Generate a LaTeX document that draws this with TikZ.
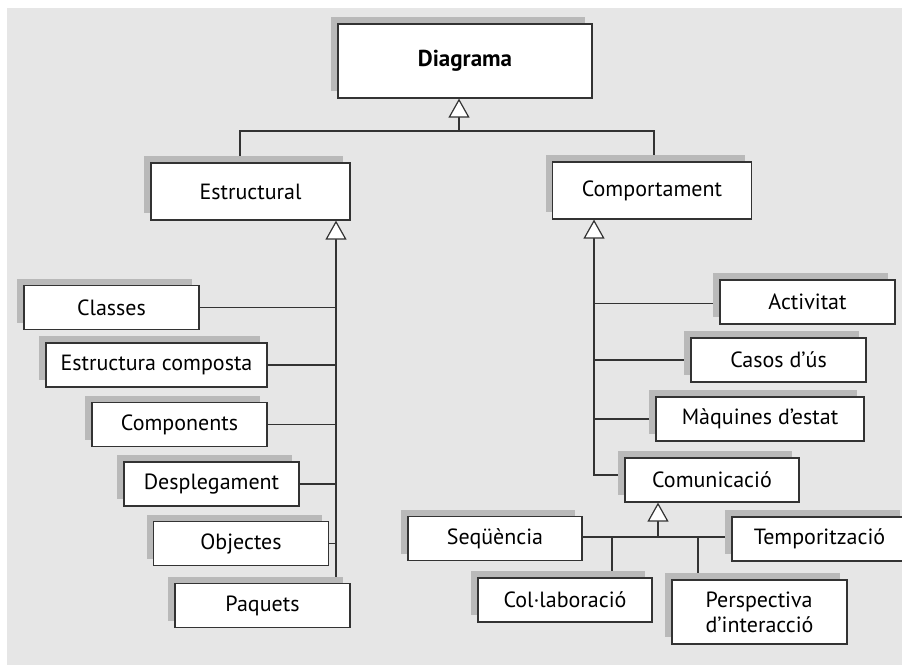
\documentclass[tikz,border=0pt]{standalone}
\usepackage{fontspec}
\setmainfont{PT Sans}
\usetikzlibrary{arrows.meta,shadows,calc}
\definecolor{paper}{HTML}{E6E6E6}
\definecolor{shade}{HTML}{B9B9B9}
\definecolor{ink}{HTML}{333333}
\pgfdeclarelayer{bg}
\pgfdeclarelayer{lines}
\pgfsetlayers{bg,lines,main}
\begin{document}
\begin{tikzpicture}[x=1pt,y=-1pt,
  box/.style={draw=ink, line width=1.2pt, fill=white, text=black,
    minimum width=#1, minimum height=44pt, inner sep=0pt,
    font=\fontsize{22}{25}\selectfont,
    drop shadow={shadow xshift=-7pt, shadow yshift=7pt, fill=shade, opacity=1}},
  box/.default=175pt,
  link/.style={draw=ink, line width=1.2pt},
  gen/.style={link, -{Triangle[length=19pt, width=21pt, fill=white]}}]
\useasboundingbox (0,0) rectangle (902,665);
\begin{pgfonlayer}{bg}
  \fill[paper] (7,8) rectangle (902,665);
\end{pgfonlayer}

% root and the two main families
\node[box=254pt, minimum height=74pt, font=\fontsize{23}{26}\selectfont\bfseries] (diag) at (465,61) {Diagrama};
\node[box=199pt, minimum height=57pt] (est) at (250.5,191.5) {Estructural};
\node[box=199pt, minimum height=57pt] (beh) at (652,190.5) {Comportament};

% structural diagrams
\node[box] (cls) at (111.5,307.5) {Classes};
\node[box=221pt] (cmp) at (156.5,365) {Estructura composta};
\node[box] (cpn) at (179.5,424.5) {Components};
\node[box] (dpl) at (211.5,484) {Desplegament};
\node[box] (obj) at (241,543.5) {Objectes};
\node[box] (paq) at (262.5,605.5) {Paquets};

% behaviour diagrams
\node[box] (act) at (807.5,302) {Activitat};
\node[box] (cas) at (778.5,360) {Casos d’ús};
\node[box=208pt] (maq) at (760,419) {Màquines d’estat};
\node[box=174pt] (comm) at (712,480) {Comunicació};

% interaction diagrams
\node[box=174pt] (seq) at (495,538.5) {Seqüència};
\node[box] (tmp) at (819.5,539) {Temporització};
\node[box=174pt] (col) at (565,600) {Col·laboració};
\node[box, minimum height=64pt, align=left] (per) at (759.5,612) {Perspectiva\\d’interacció};

\begin{pgfonlayer}{lines}
  % Diagrama generalisation
  \coordinate (j0) at (459,131);
  \coordinate (jL) at (240,131);
  \coordinate (jR) at (654,131);
  \draw[link] (est.north -| jL) -- (jL) -- (jR) -- (beh.north -| jR);
  \draw[gen] (j0) -- (diag.south -| j0);

  % Estructural spine
  \coordinate (sL) at (336,300);
  \draw[gen] (paq.north -| sL) -- (est.south -| sL);
  \foreach \n in {cls,cmp,cpn,dpl,obj}
    \draw[link] (\n.east) -- (\n.east -| sL);

  % Comportament spine
  \coordinate (sR) at (594,475);
  \draw[gen] (comm.west |- sR) -- (sR) -- (beh.south -| sR);
  \draw[link] (act.west) ++(0,1.5) coordinate (aW) -- (aW -| sR);
  \foreach \n in {cas,maq}
    \draw[link] (\n.west) -- (\n.west -| sR);

  % Comunicació family
  \coordinate (sC) at (658,537);
  \coordinate (cA) at (612,537);
  \coordinate (cB) at (698,537);
  \draw[gen] (sC) -- (comm.south -| sC);
  \draw[link] (seq.east |- sC) -- (tmp.west |- sC);
  \draw[link] (cA) -- (col.north -| cA);
  \draw[link] (cB) -- (per.north -| cB);
\end{pgfonlayer}
\end{tikzpicture}
\end{document}
